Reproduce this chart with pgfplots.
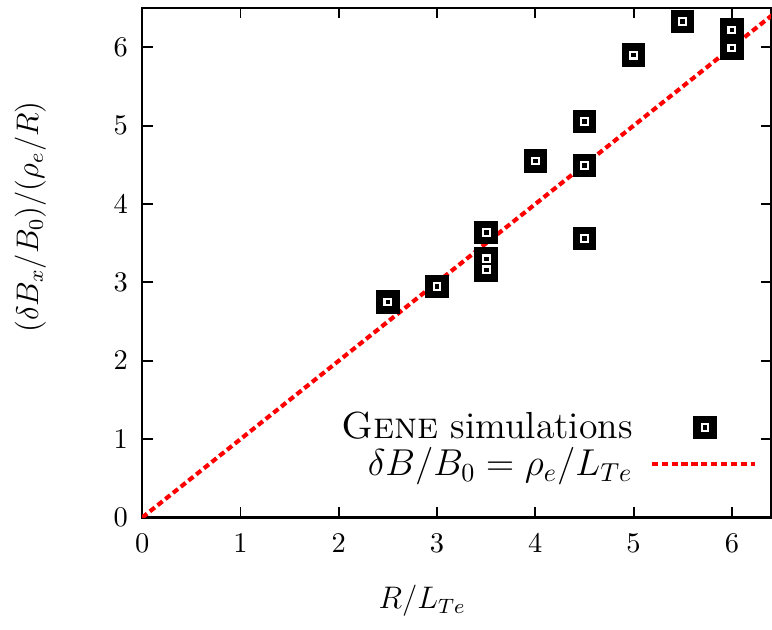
\documentclass[border=0pt]{standalone}
\usepackage{pgfplots}
\pgfplotsset{compat=1.18}
\begin{document}
\begin{tikzpicture}
\path[use as bounding box] (-54.7pt,-43.1pt) rectangle (242.3pt,199.1pt);
\begin{axis}[
  scale only axis,
  width=242pt, height=196pt,
  xmin=0, xmax=6.4, ymin=0, ymax=6.5,
  xtick={0,1,2,3,4,5,6}, ytick={0,1,2,3,4,5,6},
  tick align=inside,
  major tick length=4pt,
  axis line style={line width=0.9pt},
  every tick/.style={black, line width=0.7pt},
  tick label style={font=\fontsize{11.3}{13}\selectfont},
  xticklabel style={yshift=-3pt},
  yticklabel style={xshift=-2pt},
  xlabel={$R/L_{Te}$},
  ylabel={$(\delta B_x/B_0)/(\rho_e/R)$},
  xlabel style={font=\fontsize{12}{14}\selectfont, at={(rel axis cs:0.445,0)}, anchor=center, yshift=-32pt},
  ylabel style={font=\fontsize{11.5}{13}\selectfont, at={(rel axis cs:0,0.59)}, anchor=center, yshift=43pt},
  legend plot pos=right,
  legend cell align=right,
  legend style={draw=none, fill=none, at={(rel axis cs:0.983,0.058)}, anchor=south east,
    font=\fontsize{14.5}{16}\selectfont, row sep=-2pt, inner sep=1pt},
]
\addplot[only marks, mark=square*, mark size=4.3pt, mark options={fill=black, draw=black},
  legend image code/.code={
    \path (0cm,0cm) (1.56cm,0cm);
    \fill[black] (0.88cm-4.3pt,-4.3pt) rectangle (0.88cm+4.3pt,4.3pt);
    \draw[white, line width=0.8pt] (0.88cm-1.3pt,-1.3pt) rectangle (0.88cm+1.3pt,1.3pt);
  }]
coordinates {
(2.5,2.75) (3,2.95) (3.5,3.64) (3.5,3.30) (3.5,3.16) (4,4.55)
(4.5,5.05) (4.5,4.49) (4.5,3.56) (5,5.9) (5.5,6.33) (6,6.22) (6,5.99)
};
\addlegendentry{\textsc{Gene} simulations}
\addplot[forget plot, only marks, mark=square, mark size=1.3pt, mark options={draw=white, line width=0.8pt}]
coordinates {
(2.5,2.75) (3,2.95) (3.5,3.64) (3.5,3.30) (3.5,3.16) (4,4.55)
(4.5,5.05) (4.5,4.49) (4.5,3.56) (5,5.9) (5.5,6.33) (6,6.22) (6,5.99)
};
\addplot[red, line width=1.6pt, dash pattern=on 2.4pt off 1.4pt,
  legend image code/.code={\path (0cm,0cm); \draw[red, line width=1.6pt, dash pattern=on 2.4pt off 1.4pt] (0.16cm,0cm) -- (1.56cm,0cm);}]
coordinates {(0,0) (6.5,6.5)};
\addlegendentry{$\delta B/B_0 = \rho_e/L_{Te}$}
\end{axis}
\end{tikzpicture}
\end{document}
